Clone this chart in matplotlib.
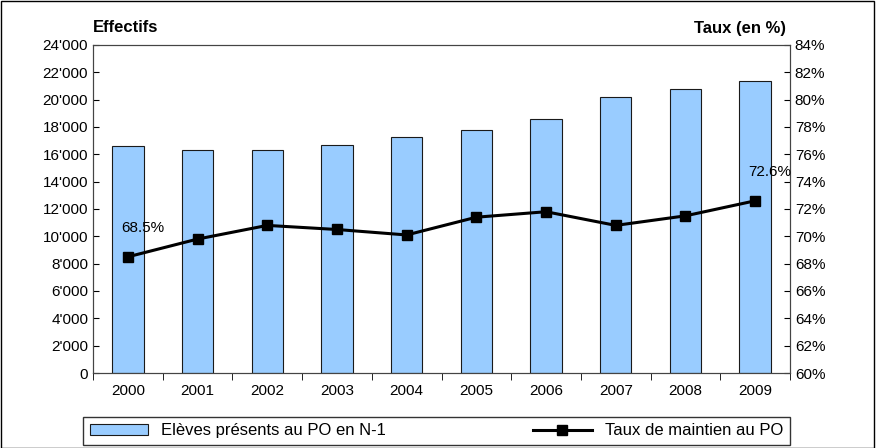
import matplotlib
matplotlib.use("Agg")
import matplotlib.pyplot as plt
from matplotlib.ticker import FuncFormatter

plt.rcParams["font.family"] = ["Liberation Sans", "DejaVu Sans"]

years = ["2000", "2001", "2002", "2003", "2004", "2005", "2006", "2007", "2008", "2009"]
eleves = [16600, 16300, 16300, 16700, 17300, 17800, 18600, 20200, 20800, 21400]
taux = [68.5, 69.8, 70.8, 70.5, 70.1, 71.4, 71.8, 70.8, 71.5, 72.6]

fig = plt.figure(figsize=(8.76, 4.48), dpi=100)
ax = fig.add_axes([93 / 876, 1 - 373 / 448, (790 - 93) / 876, (373 - 45) / 448])
ax2 = ax.twinx()

x = range(len(years))
ax.bar(x, eleves, width=0.45, color="#99CCFF", edgecolor="#1a1a1a", linewidth=0.8,
       label="Elèves présents au PO en N-1", zorder=2)
ax.set_ylim(0, 24000)
ax.set_yticks(range(0, 24001, 2000))
ax.yaxis.set_major_formatter(FuncFormatter(lambda v, p: f"{int(v):,}".replace(",", "'")))
ax.set_xlim(-0.5, len(years) - 0.5)
ax.set_xticks(list(x))
ax.set_xticklabels(years)
ax.set_xticks([i - 0.5 for i in range(len(years) + 1)], minor=True)

ax2.plot(x, taux, color="black", linewidth=2.2, marker="s", markersize=7,
         label="Taux de maintien au PO", zorder=3)
ax2.set_ylim(60, 84)
ax2.set_yticks(range(60, 85, 2))
ax2.yaxis.set_major_formatter(FuncFormatter(lambda v, p: f"{int(v)}%"))
ax2.annotate("68.5%", (0, taux[0]), xytext=(-5, 18), textcoords="offset points", fontsize=11)
ax2.annotate("72.6%", (9, taux[-1]), xytext=(-5, 18), textcoords="offset points", fontsize=11)

for a in (ax, ax2):
    a.tick_params(labelsize=11, direction="in", length=4)
    for s in a.spines.values():
        s.set_color("#444444")
ax.tick_params(axis="x", which="major", length=0, pad=8)
ax.tick_params(axis="x", which="minor", direction="out", length=5)

fig.text(93 / 876, 1 - 28 / 448, "Effectifs", fontsize=12, fontweight="bold", ha="left", va="center")
fig.text(786 / 876, 1 - 28 / 448, "Taux (en %)", fontsize=12, fontweight="bold", ha="right", va="center")

h1, l1 = ax.get_legend_handles_labels()
h2, l2 = ax2.get_legend_handles_labels()
leg = fig.legend(h1 + h2, l1 + l2, loc="lower left", ncol=2, fontsize=12,
                 bbox_to_anchor=(83 / 876, 3 / 448, (790 - 83) / 876, 30 / 448),
                 mode="expand", frameon=True, fancybox=False, borderaxespad=0,
                 handlelength=3.5, columnspacing=4)
leg.get_frame().set_edgecolor("black")

fig.patches.append(plt.Rectangle((0.001, 0.001), 0.997, 0.996, transform=fig.transFigure,
                                 fill=False, edgecolor="black", linewidth=1))
fig.savefig("out.png", dpi=100)
